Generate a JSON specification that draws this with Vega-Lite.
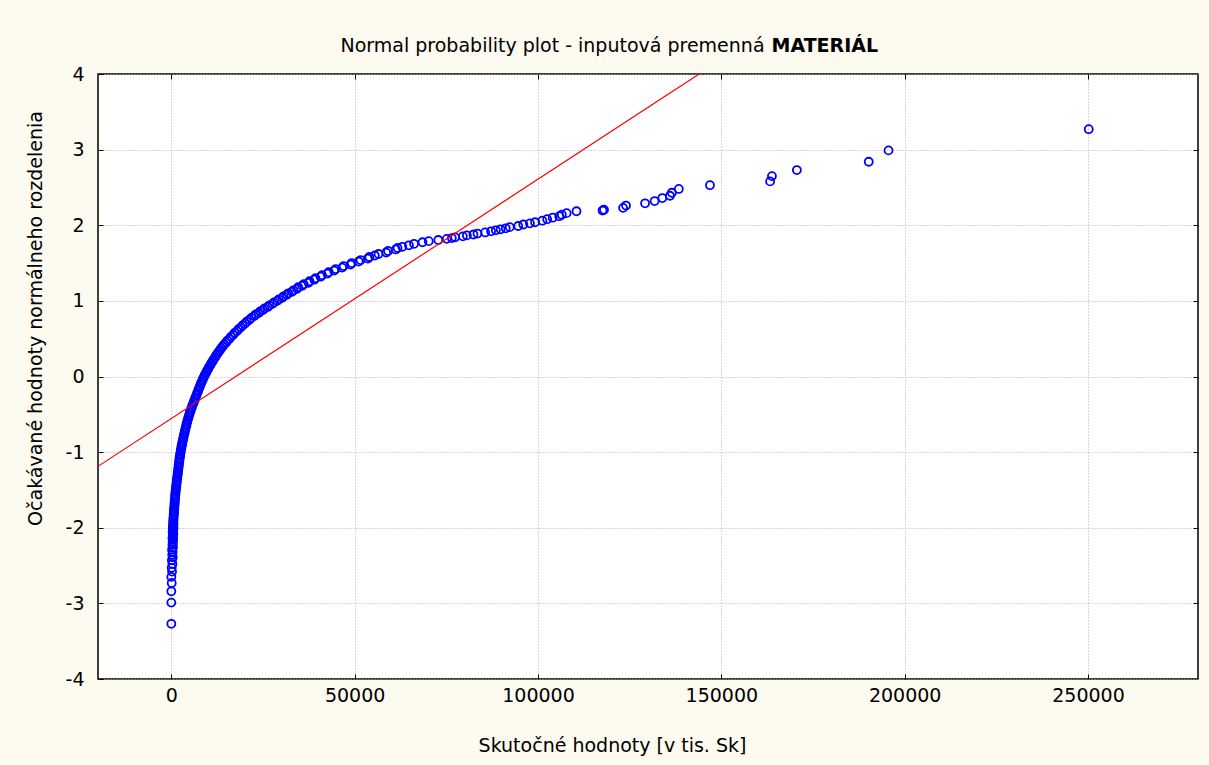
{
  "$schema": "https://vega.github.io/schema/vega-lite/v6.json",
  "width": 1100,
  "height": 605,
  "autosize": {"type": "none"},
  "padding": {"left": 98, "top": 74, "right": 11, "bottom": 86},
  "background": "#fdfaef",
  "config": {
    "view": {"fill": "#ffffff", "stroke": "#000000", "strokeWidth": 1.5},
    "axis": {
      "domain": false,
      "gridColor": "#b0b0b0",
      "gridDash": [1, 2],
      "gridWidth": 1,
      "ticks": true,
      "tickColor": "#000000",
      "tickWidth": 1,
      "tickSize": -5,
      "labelFont": "DejaVu Sans",
      "labelFontSize": 19,
      "labelColor": "#000000",
      "titleFont": "DejaVu Sans",
      "titleFontSize": 19,
      "titleFontWeight": "normal",
      "titleColor": "#000000"
    }
  },
  "layer": [
    {
      "data": {"values": [
        {"x":0,"y":-3.27},{"x":0,"y":-2.99},{"x":0,"y":-2.84},{"x":100,"y":-2.73},{"x":0,"y":-2.65},{"x":200,"y":-2.58},{"x":100,"y":-2.53},{"x":300,"y":-2.48},{"x":150,"y":-2.43},{"x":400,"y":-2.39},{"x":250,"y":-2.36},{"x":350,"y":-2.32},{"x":200,"y":-2.29},{"x":450,"y":-2.26},{"x":300,"y":-2.23},{"x":400,"y":-2.21},{"x":350,"y":-2.185},{"x":500,"y":-2.16},{"x":300,"y":-2.14},{"x":450,"y":-2.12},{"x":400,"y":-2.1},{"x":550,"y":-2.08},{"x":350,"y":-2.06},{"x":500,"y":-2.04},{"x":450,"y":-2.025},{"x":600,"y":-2.01},{"x":400,"y":-1.99},{"x":550,"y":-1.975},{"x":500,"y":-1.96},{"x":600,"y":-1.946},
        {"x":480,"y":-1.925},{"x":600,"y":-1.9},{"x":540,"y":-1.875},{"x":680,"y":-1.85},{"x":620,"y":-1.825},{"x":760,"y":-1.8},{"x":700,"y":-1.775},{"x":820,"y":-1.75},{"x":780,"y":-1.725},{"x":900,"y":-1.7},{"x":850,"y":-1.675},{"x":980,"y":-1.65},{"x":930,"y":-1.625},{"x":1050,"y":-1.6},{"x":1000,"y":-1.575},{"x":1150,"y":-1.55},{"x":1120,"y":-1.525},{"x":1250,"y":-1.5},{"x":1230,"y":-1.475},{"x":1380,"y":-1.45},{"x":1350,"y":-1.425},{"x":1500,"y":-1.4},{"x":1480,"y":-1.375},{"x":1620,"y":-1.35},{"x":1600,"y":-1.325},{"x":1750,"y":-1.3},{"x":1720,"y":-1.275},{"x":1880,"y":-1.25},{"x":1850,"y":-1.225},{"x":2000,"y":-1.2},{"x":1980,"y":-1.175},{"x":2120,"y":-1.15},{"x":2100,"y":-1.125},{"x":2260,"y":-1.1},{"x":2230,"y":-1.075},{"x":2400,"y":-1.05},{"x":2380,"y":-1.025},{"x":2560,"y":-1.0},{"x":2550,"y":-0.975},{"x":2760,"y":-0.95},{"x":2750,"y":-0.925},{"x":2960,"y":-0.9},{"x":2950,"y":-0.875},{"x":3150,"y":-0.85},{"x":3180,"y":-0.825},{"x":3350,"y":-0.8},{"x":3400,"y":-0.775},{"x":3600,"y":-0.75},{"x":3650,"y":-0.725},{"x":3850,"y":-0.7},{"x":3900,"y":-0.675},{"x":4100,"y":-0.65},{"x":4150,"y":-0.625},{"x":4350,"y":-0.6},{"x":4420,"y":-0.575},{"x":4650,"y":-0.55},{"x":4720,"y":-0.525},{"x":4950,"y":-0.5},{"x":5050,"y":-0.475},{"x":5300,"y":-0.45},{"x":5400,"y":-0.425},{"x":5650,"y":-0.4},{"x":5780,"y":-0.375},{"x":6050,"y":-0.35},{"x":6180,"y":-0.325},{"x":6450,"y":-0.3},{"x":6580,"y":-0.275},{"x":6850,"y":-0.25},{"x":6980,"y":-0.225},{"x":7250,"y":-0.2},{"x":7380,"y":-0.175},{"x":7650,"y":-0.15},{"x":7780,"y":-0.125},{"x":8050,"y":-0.1},{"x":8200,"y":-0.075},{"x":8500,"y":-0.05},{"x":8650,"y":-0.025},{"x":8950,"y":0.0},{"x":9150,"y":0.025},{"x":9500,"y":0.05},{"x":9700,"y":0.075},{"x":10050,"y":0.1},{"x":10280,"y":0.125},{"x":10650,"y":0.15},{"x":10880,"y":0.175},{"x":11250,"y":0.2},{"x":11500,"y":0.225},{"x":11900,"y":0.25},{"x":12150,"y":0.275},{"x":12550,"y":0.3},{"x":12850,"y":0.325},{"x":13300,"y":0.35},{"x":13600,"y":0.375},{"x":14050,"y":0.4},{"x":14400,"y":0.425},{"x":14950,"y":0.45},{"x":15300,"y":0.475},{"x":15850,"y":0.5},{"x":16250,"y":0.525},{"x":16850,"y":0.55},{"x":17250,"y":0.575},{"x":17900,"y":0.6},{"x":18300,"y":0.625},{"x":18950,"y":0.65},{"x":19400,"y":0.675},{"x":20100,"y":0.7},{"x":20550,"y":0.725},{"x":21300,"y":0.75},{"x":21800,"y":0.775},
        {"x":22600,"y":0.8},{"x":23000,"y":0.82},{"x":23800,"y":0.84},{"x":24200,"y":0.86},{"x":25000,"y":0.88},{"x":25400,"y":0.9},{"x":26300,"y":0.92},{"x":26700,"y":0.94},{"x":27600,"y":0.96},{"x":28000,"y":0.98},{"x":28900,"y":1.0},{"x":29300,"y":1.02},{"x":30250,"y":1.04},{"x":30600,"y":1.06},{"x":31500,"y":1.08},{"x":31900,"y":1.1},{"x":32900,"y":1.12},{"x":33300,"y":1.14},{"x":34300,"y":1.16},{"x":34600,"y":1.18},{"x":35700,"y":1.2},{"x":36100,"y":1.22},{"x":37400,"y":1.24},{"x":37700,"y":1.26},{"x":39000,"y":1.28},{"x":39300,"y":1.3},{"x":40700,"y":1.32},{"x":41100,"y":1.34},{"x":42600,"y":1.36},{"x":42900,"y":1.38},{"x":44400,"y":1.4},{"x":44800,"y":1.42},{"x":46600,"y":1.44},{"x":47000,"y":1.46},{"x":48900,"y":1.48},{"x":49200,"y":1.5},{"x":51100,"y":1.52},{"x":51600,"y":1.54},{"x":53600,"y":1.56},{"x":54000,"y":1.58},{"x":55500,"y":1.6},{"x":56500,"y":1.62},{"x":58600,"y":1.64},{"x":59100,"y":1.66},{"x":61200,"y":1.68},{"x":61700,"y":1.7},
        {"x":63000,"y":1.715},{"x":64800,"y":1.735},{"x":66200,"y":1.755},{"x":68500,"y":1.775},{"x":70200,"y":1.79},{"x":72800,"y":1.805},{"x":75100,"y":1.82},{"x":76500,"y":1.83},{"x":77400,"y":1.84},{"x":79500,"y":1.853},{"x":80600,"y":1.866},{"x":82400,"y":1.878},{"x":83500,"y":1.89},{"x":85600,"y":1.905},{"x":87200,"y":1.92},{"x":88500,"y":1.933},{"x":89800,"y":1.946},{"x":91200,"y":1.96},{"x":92300,"y":1.975},{"x":94600,"y":1.99},{"x":96000,"y":2.01},{"x":97800,"y":2.025},{"x":99200,"y":2.04},{"x":101200,"y":2.06},{"x":102500,"y":2.08},{"x":104000,"y":2.1},{"x":105800,"y":2.12},{"x":106500,"y":2.14},{"x":107800,"y":2.16},{"x":110500,"y":2.185},{"x":117600,"y":2.195},{"x":118000,"y":2.205},{"x":123200,"y":2.23},{"x":124000,"y":2.26},{"x":129200,"y":2.29},{"x":131800,"y":2.32},{"x":133900,"y":2.36},{"x":136000,"y":2.39},{"x":136500,"y":2.43},{"x":138400,"y":2.48},{"x":146900,"y":2.53},{"x":163300,"y":2.58},{"x":163800,"y":2.65},{"x":170600,"y":2.73},{"x":190200,"y":2.84},{"x":195600,"y":2.99},{"x":250200,"y":3.27}
      ]},
      "mark": {"type": "point", "shape": "circle", "size": 64, "filled": false, "stroke": "#0000ff", "strokeWidth": 1.8, "opacity": 1},
      "encoding": {
        "x": {
          "field": "x", "type": "quantitative",
          "scale": {"domain": [-20000, 280000], "nice": false, "zero": false},
          "axis": {
            "orient": "bottom", "grid": true,
            "values": [0, 50000, 100000, 150000, 200000, 250000],
            "format": "d", "labelPadding": 12,
            "title": "Skutočné hodnoty [v tis. Sk]",
            "titleX": 514, "titleY": 66, "titleAlign": "center", "titleBaseline": "middle"
          }
        },
        "y": {
          "field": "y", "type": "quantitative",
          "scale": {"domain": [-4, 4], "nice": false, "zero": false},
          "axis": {
            "orient": "left", "grid": true,
            "values": [-4, -3, -2, -1, 0, 1, 2, 3, 4],
            "labelExpr": "'' + datum.value", "labelPadding": 19,
            "title": "Očakávané hodnoty normálneho rozdelenia",
            "titleX": -63, "titleY": 244, "titleAngle": 270, "titleAlign": "center", "titleBaseline": "middle"
          }
        }
      }
    },
    {
      "data": {"values": [{"x": -20000, "y": -1.188}, {"x": 143950, "y": 4.0}]},
      "mark": {"type": "line", "color": "#ff0000", "strokeWidth": 1.2, "clip": true},
      "encoding": {
        "x": {
          "field": "x", "type": "quantitative",
          "axis": {
            "orient": "top", "grid": false, "labels": false,
            "values": [0, 50000, 100000, 150000, 200000, 250000],
            "title": "Normal probability plot - inputová premenná",
            "titleX": 242, "titleY": -29, "titleAlign": "left", "titleBaseline": "middle"
          }
        },
        "y": {
          "field": "y", "type": "quantitative",
          "axis": {
            "orient": "right", "grid": false, "labels": false,
            "values": [-3, -2, -1, 0, 1, 2, 3],
            "title": "MATERIÁL", "titleFontWeight": "bold", "titleAngle": 0,
            "titleX": -427, "titleY": -29, "titleAlign": "left", "titleBaseline": "middle"
          }
        }
      }
    }
  ],
  "resolve": {"axis": {"x": "independent", "y": "independent"}}
}
